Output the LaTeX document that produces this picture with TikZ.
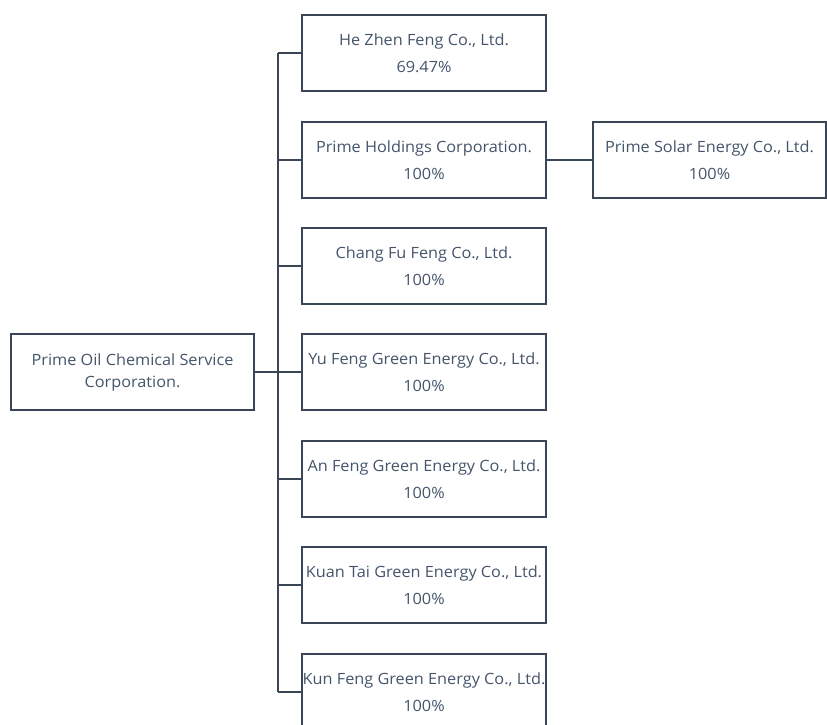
\documentclass[tikz,border=0pt]{standalone}
\usepackage{fontspec}
\setmainfont{Open Sans}[FakeStretch=1.05]
\definecolor{txt}{HTML}{44546A}
\definecolor{edge}{HTML}{3A4656}
\begin{document}
\begin{tikzpicture}[x=1pt,y=-1pt,
  box/.style={draw=edge,line width=1.3pt,rectangle,inner sep=0pt,minimum height=76pt,
    text=txt,font=\fontsize{15.5}{27.5}\selectfont,align=center},
  child/.style={box,minimum width=244pt},
  link/.style={draw=edge,line width=1.3pt}]
\useasboundingbox (0,0) rectangle (827,724);
\clip (0,0) rectangle (827,724);
\node[box,minimum width=243pt,font=\fontsize{15.5}{22}\selectfont] (root) at (132.5,372) {Prime Oil Chemical Service\\Corporation.};
\node[child] (c1) at (424,53) {He Zhen Feng Co., Ltd.\\69.47\%};
\node[child] (c2) at (424,160) {Prime Holdings Corporation.\\100\%};
\node[child] (c3) at (424,266) {Chang Fu Feng Co., Ltd.\\100\%};
\node[child] (c4) at (424,372) {Yu Feng Green Energy Co., Ltd.\\100\%};
\node[child] (c5) at (424,479) {An Feng Green Energy Co., Ltd.\\100\%};
\node[child] (c6) at (424,585) {Kuan Tai Green Energy Co., Ltd.\\100\%};
\node[child] (c7) at (424,692) {Kun Feng Green Energy Co., Ltd.\\100\%};
\node[box,minimum width=233pt] (s1) at (709.5,160) {Prime Solar Energy Co., Ltd.\\100\%};
\coordinate (bt) at (278,53);
\coordinate (bb) at (278,692);
\draw[link] (bt) -- (bb);
\draw[link] (root.east) -- (root.east -| bt);
\foreach \c in {c1,c2,c3,c4,c5,c6,c7}{\draw[link] (\c.west) -- (\c.west -| bt);}
\draw[link] (c2.east) -- (s1.west);
\end{tikzpicture}
\end{document}
